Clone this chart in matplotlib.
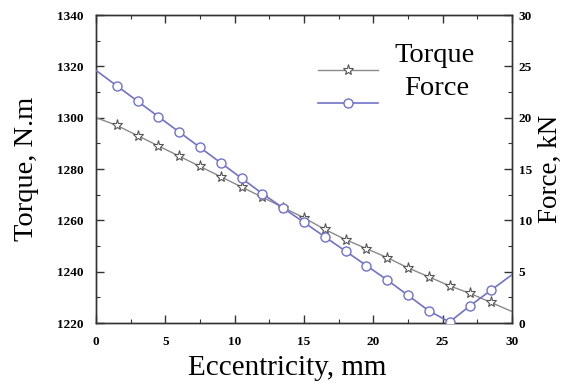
import matplotlib
matplotlib.use("Agg")
import matplotlib.pyplot as plt
from matplotlib.ticker import MultipleLocator

# values
ecc = [0, 1.5, 3, 4.5, 6, 7.5, 9, 10.5, 12, 13.5, 15, 16.5, 18, 19.5, 21, 22.5, 24, 25.5, 27, 28.5, 30]
torque = [1300, 1297, 1293, 1289, 1285, 1281, 1277, 1273, 1269, 1265, 1261,
          1256.5, 1252.5, 1249, 1245.5, 1241.5, 1238, 1234.5, 1231.5, 1228, 1224.5]
force = [24.6, 23.1, 21.6, 20.1, 18.6, 17.1, 15.6, 14.1, 12.6, 11.2, 9.8,
         8.4, 7.0, 5.6, 4.2, 2.7, 1.2, 0.1, 1.7, 3.2, 4.7]
labels = ["Torque", "Force"]

plt.rcParams['font.family'] = ['Liberation Serif', 'DejaVu Serif']

fig = plt.figure(figsize=(5.65, 3.85), dpi=100)
ax = fig.add_axes([0.170, 0.161, 0.736, 0.800])
ax2 = ax.twinx()

tq_color = "#8a8a8a"
fc_color = "#7272c8"

# no markers on the end points, as in the source figure
l1, = ax.plot(ecc, torque, color=tq_color, lw=1.0, marker="*", ms=8,
              mfc="white", mec="#555555", mew=0.8, markevery=slice(1, -1), zorder=3)
l2, = ax2.plot(ecc, force, color=fc_color, lw=1.2, marker="o", ms=6.5,
               mfc="white", mec=fc_color, mew=1.0, markevery=slice(1, -1), zorder=3)

ax.set_xlim(0, 30)
ax.set_ylim(1220, 1340)
ax2.set_ylim(0, 30)

ax.xaxis.set_major_locator(MultipleLocator(5))
ax.xaxis.set_minor_locator(MultipleLocator(2.5))
ax.yaxis.set_major_locator(MultipleLocator(20))
ax.yaxis.set_minor_locator(MultipleLocator(10))
ax2.yaxis.set_major_locator(MultipleLocator(5))
ax2.yaxis.set_minor_locator(MultipleLocator(2.5))

for a in (ax, ax2):
    for s in a.spines.values():
        s.set_color("#333333")
        s.set_linewidth(1.0)
ax.tick_params(which="both", direction="in", top=True, colors="#333333", labelcolor="black")
ax.tick_params(axis="y", right=False, pad=9)
ax.tick_params(axis="x", pad=9)
ax2.tick_params(which="both", direction="in", colors="#333333", labelcolor="black", pad=5)
for a in (ax, ax2):
    a.tick_params(which="major", length=6, width=1)
    a.tick_params(which="minor", length=3, width=0.8)

for t in ax.get_xticklabels() + ax.get_yticklabels() + ax2.get_yticklabels():
    t.set_fontweight("bold")
    t.set_fontsize(9.5)

ax.set_xlabel("Eccentricity, mm", fontsize=21)
ax.xaxis.set_label_coords(0.46, -0.105)
ax.set_ylabel("Torque, N.m", fontsize=20.5, labelpad=13)
ax2.set_ylabel("Force, kN", fontsize=19.5, labelpad=4)

leg = ax.legend([l1, l2], ["", ""], frameon=False, loc="upper left",
                bbox_to_anchor=(0.515, 0.87), handlelength=3.1,
                labelspacing=0.8, fontsize=14, borderaxespad=0)
ax.text(0.815, 0.870, labels[0], transform=ax.transAxes, fontsize=20.5,
        ha="center", va="center")
ax.text(0.820, 0.763, labels[1], transform=ax.transAxes, fontsize=20.5,
        ha="center", va="center")

fig.savefig("out.png", dpi=100)
